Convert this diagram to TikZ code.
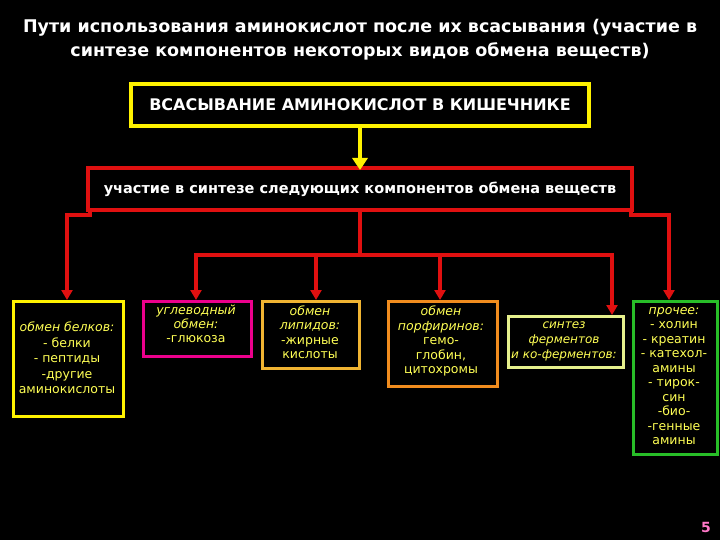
\documentclass[tikz,border=0pt]{standalone}
\usepackage{fontspec}
\setmainfont{DejaVu Sans}
\usetikzlibrary{arrows.meta}
\definecolor{tx}{HTML}{FFFF55}
\definecolor{rd}{HTML}{E01010}
\begin{document}
\begin{tikzpicture}[x=1pt,y=-1pt,
  box/.style={draw,line width=3pt,fill=black,inner sep=0pt,anchor=north west},
  lab/.style={text=tx,align=center,inner sep=0pt},
  red/.style={draw=rd,line width=3.5pt},
  arr/.style={red,-{Triangle[length=10pt,width=11pt]}}]
\fill[black] (0,0) rectangle (720,540);
\useasboundingbox (0,0) rectangle (720,540);
\node[text=white,font=\bfseries\fontsize{17.5}{24}\selectfont,align=center] (title) at (360,40) {Пути использования аминокислот после их всасывания (участие в\\синтезе компонентов некоторых видов обмена веществ)};
\node[draw=yellow,line width=4pt,minimum width=458pt,minimum height=42pt,text=white,font=\bfseries\fontsize{16}{18}\selectfont] (top) at (360,105) {ВСАСЫВАНИЕ АМИНОКИСЛОТ В КИШЕЧНИКЕ};
\node[draw=rd,line width=4pt,minimum width=544pt,minimum height=42pt,text=white,font=\bfseries\fontsize{14.5}{17}\selectfont] (mid) at (360,189) {участие в синтезе следующих компонентов обмена веществ};
\draw[yellow,line width=4pt,-{Triangle[length=12pt,width=15pt]}] (top.south) -- ([yshift=-4pt]mid.north);
\node[box,draw=yellow,minimum width=110pt,minimum height=115pt] (b1) at (12,300) {};
\node[lab,font=\fontsize{12.5}{15.5}\selectfont] (t1) at (67,358) {\textit{обмен белков:}\\- белки\\- пептиды\\-другие\\аминокислоты};
\node[box,draw=magenta,minimum width=108pt,minimum height=55pt] (b2) at (142,300) {};
\node[lab,font=\fontsize{12.5}{14}\selectfont] (t2) at (196,324) {\textit{углеводный}\\\textit{обмен:}\\-глюкоза};
\node[box,draw={rgb,255:red,240;green,180;blue,50},minimum width=97pt,minimum height=67pt] (b3) at (261,300) {};
\node[lab,font=\fontsize{12.5}{14.5}\selectfont] (t3) at (310,332) {\textit{обмен}\\\textit{липидов:}\\-жирные\\кислоты};
\node[box,draw={rgb,255:red,240;green,140;blue,30},minimum width=109pt,minimum height=85pt] (b4) at (387,300) {};
\node[lab,font=\fontsize{12.5}{14.5}\selectfont] (t4) at (441,341) {\textit{обмен}\\\textit{порфиринов:}\\гемо-\\глобин,\\цитохромы};
\node[box,draw={rgb,255:red,230;green,240;blue,140},minimum width=115pt,minimum height=51pt] (b5) at (507,315) {};
\node[lab,font=\fontsize{12}{15}\selectfont] (t5) at (564,341) {\textit{синтез}\\\textit{ферментов}\\\textit{и ко-ферментов:}};
\node[box,draw={rgb,255:red,40;green,190;blue,40},minimum width=84pt,minimum height=153pt] (b6) at (632,300) {};
\node[lab,font=\fontsize{12.5}{14.5}\selectfont] (t6) at (674,376) {\textit{прочее:}\\- холин\\- креатин\\- катехол-\\амины\\- тирок-\\син\\-био-\\-генные\\амины};
\coordinate (cl) at (90,215);
\coordinate (cr) at (631,215);
\coordinate (cm) at (360,255);
\draw[red] (90,209) -- (cl) -- (67,215);
\draw[arr] (67,213.25) -- (b1.north -| 67,0);
\draw[red] (631,209) -- (cr) -- (669,215);
\draw[arr] (669,213.25) -- (b6.north -| 669,0);
\draw[red] (mid.south) -- (cm);
\draw[red] (196,255) -- (612,255);
\draw[arr] (196,253.25) -- (b2.north -| 196,0);
\draw[arr] (316,253.25) -- (b3.north -| 316,0);
\draw[arr] (440,253.25) -- (b4.north -| 440,0);
\draw[arr] (612,253.25) -- (b5.north -| 612,0);
\node[text={rgb,255:red,255;green,120;blue,200},font=\bfseries\fontsize{14}{16}\selectfont] (pg) at (706,527) {5};
\end{tikzpicture}
\end{document}
